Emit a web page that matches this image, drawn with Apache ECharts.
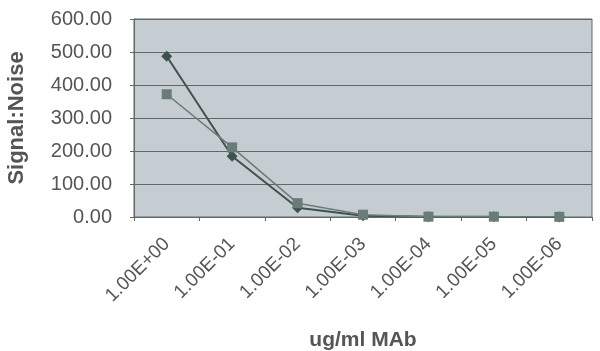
<!DOCTYPE html>
<html>
<head>
<meta charset="utf-8">
<script src="https://cdn.jsdelivr.net/npm/echarts@6/dist/echarts.min.js"></script>
<style>
html,body{margin:0;padding:0;background:#fff;}
#main{width:600px;height:351px;}
</style>
</head>
<body>
<div id="main"></div>
<script>
let categories = ['1.00E+00','1.00E-01','1.00E-02','1.00E-03','1.00E-04','1.00E-05','1.00E-06'];
let seriesA = [487, 184, 28, 4, 1, 0.5, 0.3];
let seriesB = [372, 211, 42, 7, 1, 1, 0.5];
let yTicks = [0, 100, 200, 300, 400, 500, 600];

let chart = echarts.init(document.getElementById('main'));

let option = {
	animation: false,
	grid: {
		left: 134,
		right: 8,
		top: 19,
		bottom: 134,
		outerBoundsMode: 'none',
		containLabel: false,
		show: true,
		backgroundColor: '#c5cdd2',
		borderColor: '#5f6a68',
		borderWidth: 1
	},
	xAxis: {
		type: 'category',
		data: categories,
		boundaryGap: true,
		name: 'ug/ml MAb',
		nameLocation: 'middle',
		nameGap: 113,
		nameTextStyle: {
			fontFamily: 'Liberation Sans',
			fontWeight: 'bold',
			fontSize: 21,
			color: '#555'
		},
		axisLine: { lineStyle: { color: '#5f6a68' } },
		axisTick: { show: true, alignWithLabel: false, length: 4, lineStyle: { color: '#5f6a68' } },
		axisLabel: {
			rotate: 45,
			interval: 0,
			margin: 24,
			fontFamily: 'Liberation Sans',
			fontSize: 19,
			color: '#555'
		}
	},
	yAxis: {
		type: 'value',
		min: yTicks[0],
		max: yTicks[yTicks.length - 1],
		interval: 100,
		name: 'Signal:Noise',
		nameLocation: 'middle',
		nameGap: 106,
		nameTextStyle: {
			fontFamily: 'Liberation Sans',
			fontWeight: 'bold',
			fontSize: 22,
			color: '#555'
		},
		axisLine: { show: true, lineStyle: { color: '#5f6a68' } },
		axisTick: { show: true, length: 4, lineStyle: { color: '#5f6a68' } },
		axisLabel: {
			margin: 22,
			fontFamily: 'Liberation Sans',
			fontSize: 20,
			color: '#555',
			formatter: function (v) { return v.toFixed(2); }
		},
		splitLine: { lineStyle: { color: '#5f6a68', width: 1 } }
	},
	series: [
		{
			type: 'line',
			data: seriesA,
			symbol: 'diamond',
			symbolSize: 11,
			itemStyle: { color: '#3f524e' },
			lineStyle: { color: '#3f524e', width: 2 }
		},
		{
			type: 'line',
			data: seriesB,
			symbol: 'rect',
			symbolSize: 10,
			itemStyle: { color: '#6b7b77' },
			lineStyle: { color: '#6b7b77', width: 1.5 }
		}
	]
};

chart.setOption(option);
</script>
</body>
</html>
